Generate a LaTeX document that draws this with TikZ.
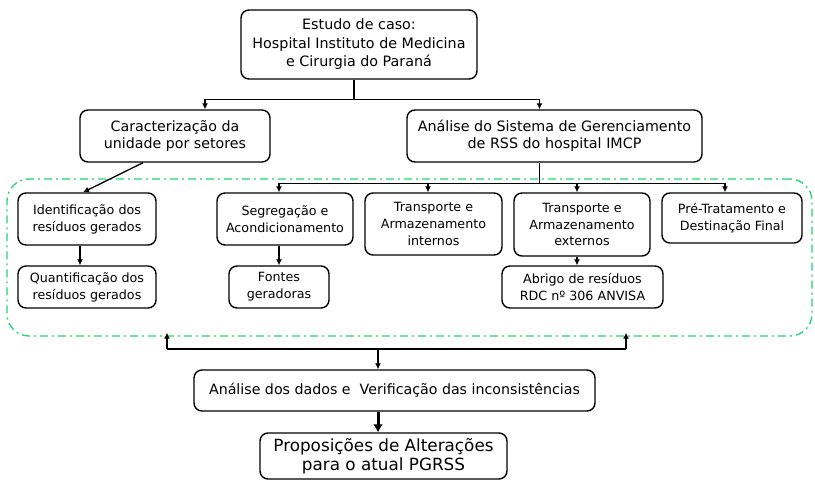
\documentclass[tikz,border=0pt]{standalone}
\usepackage{fontspec}
\setmainfont{DejaVu Sans}
\usetikzlibrary{arrows.meta}
\definecolor{dgreen}{RGB}{30,215,110}
\begin{document}
\begin{tikzpicture}[x=1pt,y=-1pt,
  box/.style={draw, line width=1.4pt, rounded corners=8pt, align=center, inner sep=1pt, font=\fontsize{12.7}{16.8}\selectfont},
  arr/.style={line width=1.3pt, -{Latex[length=6pt,width=6pt]}},
  ln/.style={line width=1.3pt},
  bigarr/.style={line width=3pt, -{Latex[length=8pt,width=10pt]}},
  frame/.style={draw=dgreen, line width=1.3pt, dash pattern=on 8pt off 4pt on 2pt off 4pt, rounded corners=22pt}]
\useasboundingbox (0,0) rectangle (815,481);

\node[frame, minimum width=805pt, minimum height=157pt] (frm) at (409.5,257.5) {};

\node[box, minimum width=236pt, minimum height=69pt, font=\fontsize{14.3}{18.5}\selectfont] (top) at (359,44.5) {Estudo de caso:\\Hospital Instituto de Medicina\\e Cirurgia do Paraná};
\node[box, minimum width=190pt, minimum height=52pt, font=\fontsize{14.2}{17}\selectfont] (cara) at (175,136) {Caracterização da\\unidade por setores};
\node[box, minimum width=295pt, minimum height=52pt, font=\fontsize{14.3}{17}\selectfont] (anal) at (554.5,136) {Análise do Sistema de Gerenciamento\\de RSS do hospital IMCP};

\node[box, minimum width=138pt, minimum height=52pt] (ident) at (87,219) {Identificação dos\\resíduos gerados};
\node[box, minimum width=136pt, minimum height=52pt] (segr) at (285,219) {Segregação e\\Acondicionamento};
\node[box, minimum width=137pt, minimum height=62pt] (tint) at (433.5,224) {Transporte e\\Armazenamento\\internos};
\node[box, minimum width=136pt, minimum height=63pt] (text) at (582,224.5) {Transporte e\\Armazenamento\\externos};
\node[box, minimum width=140pt, minimum height=50pt] (pre) at (732,218) {Pré-Tratamento e\\Destinação Final};

\node[box, minimum width=138pt, minimum height=42pt] (quant) at (87,287) {Quantificação dos\\resíduos gerados};
\node[box, minimum width=100pt, minimum height=42pt] (fon) at (279,287) {Fontes\\geradoras};
\node[box, minimum width=161pt, minimum height=42pt] (abri) at (582.5,287) {Abrigo de resíduos\\RDC nº 306 ANVISA};

\node[box, minimum width=401pt, minimum height=41pt, font=\fontsize{14.2}{17}\selectfont] (dados) at (394.5,390.5) {Análise dos dados e\ \ Verificação das inconsistências};
\node[box, minimum width=247pt, minimum height=46pt, font=\fontsize{16.8}{19.5}\selectfont] (prop) at (383.5,456) {Proposições de Alterações\\para o atual PGRSS};

% top branches
\draw[ln] ([xshift=-5pt]top.south) -- ++(0,20) coordinate (j1);
\draw[arr] (j1) -| ([xshift=30pt]cara.north);
\draw[arr] (j1) -| ([xshift=-15pt]anal.north);

% analysis branches
\draw[ln] ([xshift=-15pt]anal.south) -- ++(0,21) coordinate (j2);
\draw[arr] (j2) -| ([xshift=-6pt]segr.north);
\draw[arr] (j2) -| ([xshift=-5.5pt]tint.north);
\draw[arr] (j2) -| ([xshift=-5pt]text.north);
\draw[arr] (j2) -| ([xshift=-7pt]pre.north);

\draw[arr] ([xshift=-32pt]cara.south) -- ([xshift=-4pt]ident.north);
\draw[arr] ([xshift=-7pt]ident.south) -- ([xshift=-7pt]quant.north);
\draw[arr] ([xshift=-6pt]segr.south) -- (fon.north);
\draw[arr] ([xshift=-5pt]text.south) -- ([xshift=-5.5pt]abri.north);

% bottom
\coordinate (b1) at (167,349);
\coordinate (b2) at (626,349);
\coordinate (d1) at ([xshift=-16.5pt]dados.north);
\draw[ln] (b1) -- (b2);
\draw[arr] (b1) -- ([yshift=4pt]b1 |- frm.south);
\draw[arr] (b2) -- ([yshift=4pt]b2 |- frm.south);
\draw[arr] (d1 |- b1) -- (d1);
\draw[bigarr] ([xshift=-16.5pt]dados.south) -- ([xshift=-5.5pt]prop.north);
\end{tikzpicture}
\end{document}
